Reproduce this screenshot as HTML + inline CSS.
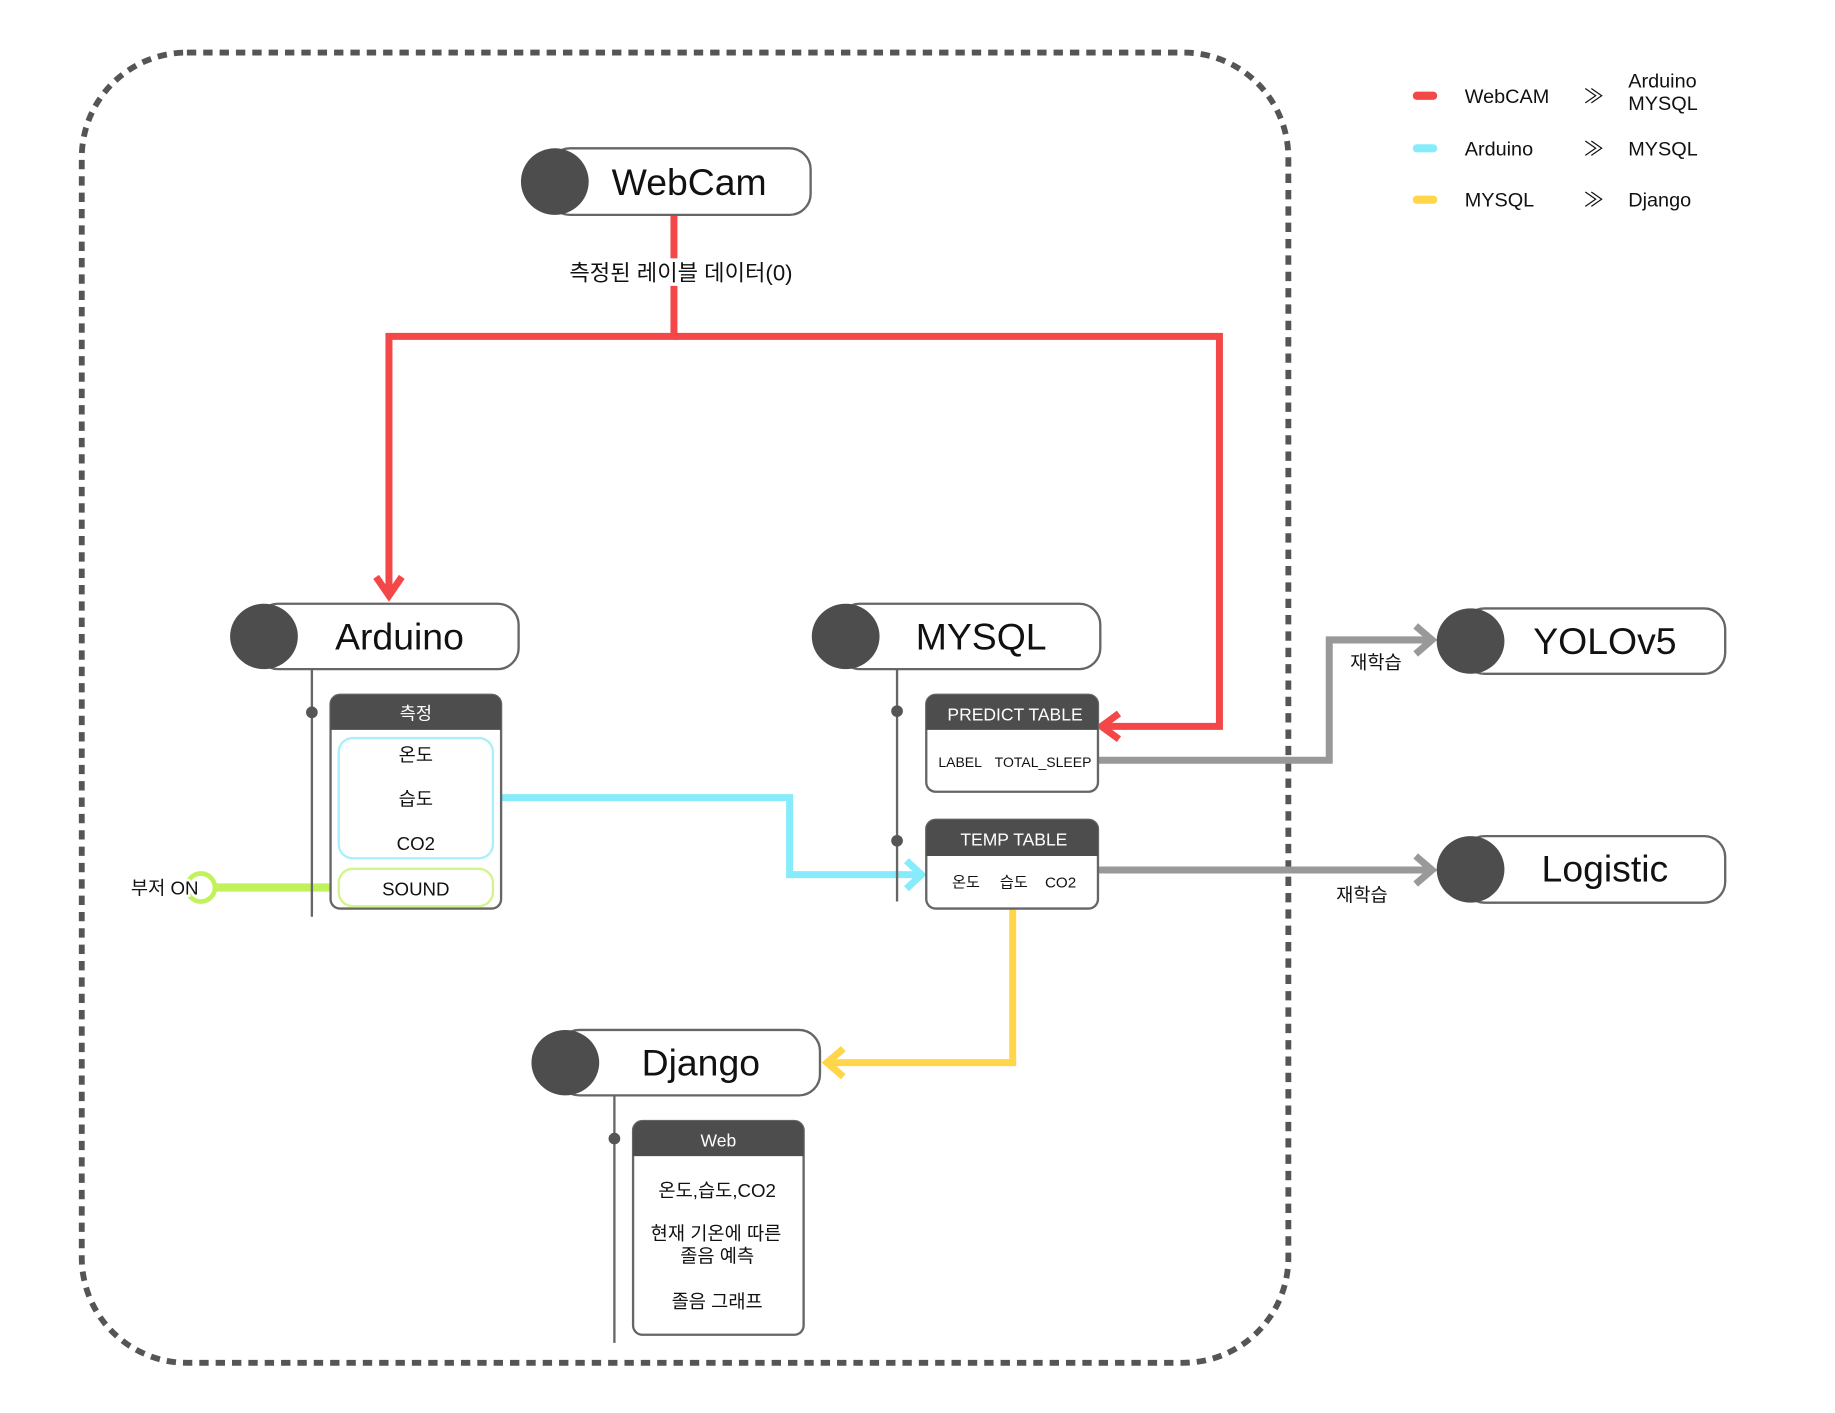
<!DOCTYPE html>
<html><head><meta charset="utf-8"><style>
html,body{margin:0;padding:0;background:#fff;}
svg{display:block;}
text{font-family:"Liberation Sans","Noto Sans CJK KR",sans-serif;fill:#111;}
</style></head><body>
<svg width="1835" height="1413" viewBox="0 0 1571 1210" preserveAspectRatio="none" xmlns="http://www.w3.org/2000/svg">
<!-- dashed boundary -->
<rect x="70" y="45" width="1033" height="1122" rx="90" fill="none" stroke="#555" stroke-width="5" stroke-dasharray="8 6"/>

<!-- red connectors -->
<g fill="none" stroke="#f44848" stroke-width="6">
<polyline points="577,184 577,288 333,288 333,508"/>
<polyline points="577,288 1044,288 1044,622 946,622"/>
</g>
<polyline points="322,494 333,510 344,494" fill="none" stroke="#f44848" stroke-width="6"/>
<polyline points="958,611 943,622 958,633" fill="none" stroke="#f44848" stroke-width="6"/>
<text x="583" y="240" font-size="19" text-anchor="middle" stroke="#fff" stroke-width="6" paint-order="stroke">측정된 레이블 데이터(0)</text>

<!-- gray connectors -->
<g fill="none" stroke="#999" stroke-width="6">
<polyline points="940,651 1138,651 1138,548 1224,548"/>
<polyline points="940,745 1224,745"/>
<polyline points="1212,536 1226,548 1212,560"/>
<polyline points="1212,733 1226,745 1212,757"/>
</g>
<text x="1178" y="573" font-size="16" text-anchor="middle">재학습</text>
<text x="1166" y="772" font-size="16" text-anchor="middle">재학습</text>

<!-- cyan -->
<g fill="none" stroke="#86ecfb" stroke-width="6">
<polyline points="422,683 676,683 676,749 786,749"/>
<polyline points="776,737 789,749 776,761"/>
</g>
<!-- yellow -->
<g fill="none" stroke="#ffd64a" stroke-width="6">
<polyline points="867,778 867,910 710,910"/>
<polyline points="722,898 708,910 722,922"/>
</g>
<!-- green -->
<line x1="184" y1="760" x2="290" y2="760" stroke="#c2f25a" stroke-width="7"/>
<circle cx="172" cy="760" r="12" fill="none" stroke="#c2f25a" stroke-width="4"/>
<text x="141" y="766" font-size="16" text-anchor="middle" stroke="#fff" stroke-width="4" paint-order="stroke">부저 ON</text>

<!-- vertical stems -->
<g stroke="#666" stroke-width="2">
<line x1="267" y1="573" x2="267" y2="785"/>
<line x1="768" y1="573" x2="768" y2="772"/>
<line x1="526" y1="938" x2="526" y2="1150"/>
</g>
<g fill="#555">
<circle cx="267" cy="610" r="5"/><circle cx="768" cy="609" r="5"/><circle cx="768" cy="720" r="5"/><circle cx="526" cy="975" r="5"/>
</g>

<!-- nodes -->
<g stroke="#666" stroke-width="2" fill="#fff">
<rect x="470" y="127" width="224" height="57" rx="18"/>
<rect x="220" y="517" width="224" height="56" rx="18"/>
<rect x="718" y="517" width="224" height="56" rx="18"/>
<rect x="1253" y="521" width="224" height="56" rx="18"/>
<rect x="1253" y="716" width="224" height="57" rx="18"/>
<rect x="478" y="882" width="224" height="56" rx="18"/>
</g>
<g fill="#4d4d4d">
<ellipse cx="475" cy="155.5" rx="29" ry="28.5"/>
<ellipse cx="226" cy="545" rx="29" ry="28"/>
<ellipse cx="724" cy="545" rx="29" ry="28"/>
<ellipse cx="1259" cy="549" rx="29" ry="28"/>
<ellipse cx="1259" cy="744.5" rx="29" ry="28.5"/>
<ellipse cx="484" cy="910" rx="29" ry="28"/>
</g>
<g font-size="32" text-anchor="middle">
<text x="590" y="167">WebCam</text>
<text x="342" y="556">Arduino</text>
<text x="840" y="556">MYSQL</text>
<text x="1374" y="560">YOLOv5</text>
<text x="1374" y="755">Logistic</text>
<text x="600" y="921">Django</text>
</g>

<!-- Arduino box -->
<rect x="283" y="595" width="146" height="183" rx="8" fill="#fff" stroke="#666" stroke-width="2"/>
<path d="M283,625 V603 a8,8 0 0 1 8,-8 H421 a8,8 0 0 1 8,8 V625 Z" fill="#4d4d4d"/>
<text x="356" y="616" font-size="15" text-anchor="middle" fill="#fff" style="fill:#fff">측정</text>
<rect x="290" y="632" width="132" height="103" rx="12" fill="none" stroke="#a8f0fb" stroke-width="2"/>
<rect x="290" y="744" width="132" height="32" rx="12" fill="none" stroke="#d2f58a" stroke-width="2"/>
<g font-size="16" text-anchor="middle">
<text x="356" y="652">온도</text><text x="356" y="690">습도</text><text x="356" y="728">CO2</text><text x="356" y="767">SOUND</text>
</g>

<!-- PREDICT TABLE -->
<rect x="793" y="595" width="147" height="83" rx="8" fill="#fff" stroke="#666" stroke-width="2"/>
<path d="M793,625 V603 a8,8 0 0 1 8,-8 H932 a8,8 0 0 1 8,8 V625 Z" fill="#4d4d4d"/>
<text x="869" y="617" font-size="15" text-anchor="middle" style="fill:#fff">PREDICT TABLE</text>
<text x="822" y="657" font-size="12" text-anchor="middle">LABEL</text>
<text x="893" y="657" font-size="12" text-anchor="middle">TOTAL_SLEEP</text>

<!-- TEMP TABLE -->
<rect x="793" y="702" width="147" height="76" rx="8" fill="#fff" stroke="#666" stroke-width="2"/>
<path d="M793,733 V710 a8,8 0 0 1 8,-8 H932 a8,8 0 0 1 8,8 V733 Z" fill="#4d4d4d"/>
<text x="868" y="724" font-size="15" text-anchor="middle" style="fill:#fff">TEMP TABLE</text>
<g font-size="13" text-anchor="middle">
<text x="827" y="760">온도</text><text x="868" y="760">습도</text><text x="908" y="760">CO2</text>
</g>

<!-- Web box -->
<rect x="542" y="960" width="146" height="183" rx="8" fill="#fff" stroke="#666" stroke-width="2"/>
<path d="M542,990 V968 a8,8 0 0 1 8,-8 H680 a8,8 0 0 1 8,8 V990 Z" fill="#4d4d4d"/>
<text x="615" y="982" font-size="15" text-anchor="middle" style="fill:#fff">Web</text>
<g font-size="16" text-anchor="middle">
<text x="614" y="1025">온도,습도,CO2</text>
<text x="613" y="1062">현재 기온에 따른</text>
<text x="614" y="1081">졸음 예측</text>
<text x="614" y="1120">졸음 그래프</text>
</g>

<!-- legend -->
<g stroke-width="7" stroke-linecap="round">
<line x1="1213" y1="82" x2="1227" y2="82" stroke="#f44848"/>
<line x1="1213" y1="127" x2="1227" y2="127" stroke="#86ecfb"/>
<line x1="1213" y1="171" x2="1227" y2="171" stroke="#ffd64a"/>
</g>
<g font-size="17">
<text x="1254" y="88">WebCAM</text>
<text x="1254" y="133">Arduino</text>
<text x="1254" y="177">MYSQL</text>
<text x="1356" y="88">≫</text>
<text x="1356" y="133">≫</text>
<text x="1356" y="177">≫</text>
<text x="1394" y="75">Arduino</text>
<text x="1394" y="94">MYSQL</text>
<text x="1394" y="133">MYSQL</text>
<text x="1394" y="177">Django</text>
</g>
</svg>
</body></html>
